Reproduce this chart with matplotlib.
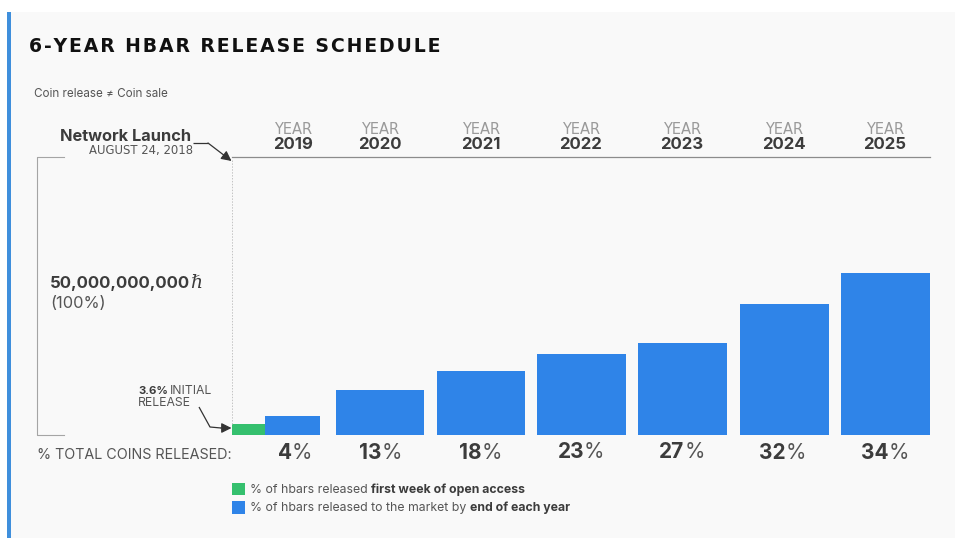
import matplotlib
matplotlib.use("Agg")
import matplotlib.pyplot as plt
from matplotlib.patches import Rectangle

W, H = 964, 544

title = "6-YEAR HBAR RELEASE SCHEDULE"
subtitle = "Coin release \u2260 Coin sale"
years = ["2019", "2020", "2021", "2022", "2023", "2024", "2025"]
released_labels = ["4", "13", "18", "23", "27", "32", "34"]
# bar heights as drawn, in percent of the full 50,000,000,000 bracket (the picture is not to scale)
bar_heights = [6.8, 16.2, 23.0, 29.1, 33.1, 47.1, 58.3]
initial_height = 4.0

BLUE = "#2f84e8"
GREEN = "#35c06e"
DARK = "#3c3c3c"
MID = "#555555"
GREY = "#9a9a9a"
LINE = "#8c8c8c"
FONT = ["Inter", "DejaVu Sans"]

bar_left = [265, 336, 437, 537, 638, 740, 841]
bar_right = [320, 424, 525, 626, 727, 829, 930]
year_x = [293, 380, 481, 581, 682, 784, 885]
label_x = [295, 380.5, 480.5, 581, 682, 783, 885]
label_y = [459, 459, 459, 458, 458, 459, 459]

fig = plt.figure(figsize=(W / 100, H / 100), dpi=100, facecolor="white")

bg = fig.add_axes([0, 0, 1, 1], zorder=0)
bg.set_xlim(0, W)
bg.set_ylim(H, 0)
bg.axis("off")
bg.add_patch(Rectangle((11, 12), 944, 526, fc="#f9f9f9", ec="none"))
bg.add_patch(Rectangle((7, 12), 4, 526, fc="#3f8fdc", ec="none"))

# data axes: y runs 0-100 % from baseline 435 to top rule 157
x0, x1, y_top, y_base = 232, 930, 157, 435
ax = fig.add_axes([x0 / W, 1 - y_base / H, (x1 - x0) / W, (y_base - y_top) / H], zorder=1)
ax.set_xlim(x0, x1)
ax.set_ylim(0, 100)
ax.axis("off")
ax.bar(x0, initial_height, width=265 - x0, align="edge", color=GREEN, linewidth=0)
ax.bar(bar_left, bar_heights, width=[r - l for l, r in zip(bar_left, bar_right)],
       align="edge", color=BLUE, linewidth=0)

ov = fig.add_axes([0, 0, 1, 1], zorder=2)
ov.set_xlim(0, W)
ov.set_ylim(H, 0)
ov.axis("off")
ov.patch.set_alpha(0)
renderer = fig.canvas.get_renderer()


def T(x, y, s, size, color=DARK, weight="normal", ha="left", family=FONT, **kw):
    return ov.text(x, y, s, fontsize=size, color=color, fontweight=weight, ha=ha,
                   va="baseline", family=family, **kw)


def runs(x, y, parts, center=False):
    """Draw consecutive (text, size, color, weight) runs on one baseline."""
    arts = [T(x, y, s, size, c, w) for s, size, c, w in parts]
    widths = [a.get_window_extent(renderer).width for a in arts]
    cur = x - sum(widths) / 2 if center else x
    for a, wd in zip(arts, widths):
        a.set_x(cur)
        cur += wd


def arrow(points):
    xs, ys = zip(*points[:-1])
    ov.plot(xs, ys, color="#333333", lw=0.9, solid_capstyle="butt")
    ov.annotate("", xy=points[-1], xytext=points[-2],
                arrowprops=dict(arrowstyle="-|>", color="#333333", lw=0.9, mutation_scale=15,
                                shrinkA=0, shrinkB=0))


T(29, 52, "\u200a".join(title), 13.6, "#111111", "bold", family=["DejaVu Sans"])
T(34, 97, subtitle, 8.4, MID)

# rules
ov.plot([232, 930], [156.5, 156.5], color=LINE, lw=0.9)
ov.plot([64, 37, 37, 64], [156.5, 156.5, 434.5, 434.5], color="#a5a5a5", lw=0.8)
ov.plot([232, 232], [160, 424], color="#c4c4c4", lw=0.7, ls=(0, (1.5, 1.5)))

# year headers
for x, y in zip(year_x, years):
    T(x + 0.5, 134, "YEAR", 10.5, GREY, ha="center", family=["DejaVu Sans"])
    T(x, 149, y, 12, DARK, "bold", ha="center")

# network launch
T(191, 141, "Network Launch", 11.8, DARK, "bold", ha="right")
T(193, 154, "AUGUST 24, 2018", 8.4, MID, ha="right", family=["DejaVu Sans"])
arrow([(193, 143), (208, 143), (231.5, 161)])

# left bracket label
T(50, 288, "50,000,000,000", 12, DARK, "bold")
T(190, 288, "\u210f", 13.5, DARK, style="italic", family=["DejaVu Serif"])
T(50, 308, "(100%)", 11.8, MID)

# initial release
T(138, 394, "3.6%", 8.2, DARK, "bold")
T(170, 394, "INITIAL", 8.8, MID)
T(138, 406, "RELEASE", 8.8, MID)
arrow([(199, 407), (210, 427), (221, 428), (231.5, 428)])

# bottom row
T(37, 459, "% TOTAL COINS RELEASED:", 10.3, MID)
for x, s, y in zip(label_x, released_labels, label_y):
    runs(x, y, [(s, 15, DARK, "bold"), ("%", 15, MID, "normal")], center=True)

# legend
ov.add_patch(Rectangle((232, 483), 13, 12, fc=GREEN, ec="none"))
ov.add_patch(Rectangle((232, 501), 13, 13, fc=BLUE, ec="none"))
runs(250, 493, [("% of hbars released ", 8.85, MID, "normal"),
                ("first week of open access", 8.85, DARK, "bold")])
runs(250, 511, [("% of hbars released to the market by ", 8.85, MID, "normal"),
                ("end of each year", 8.85, DARK, "bold")])

fig.savefig("out.png", dpi=100, facecolor="white")
